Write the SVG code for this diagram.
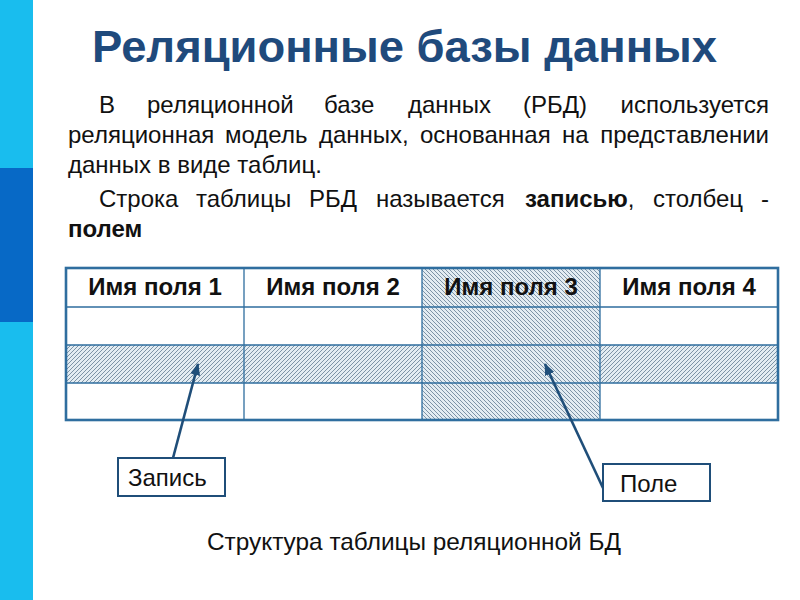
<svg xmlns="http://www.w3.org/2000/svg" width="800" height="600" viewBox="0 0 800 600">
<style>
.body{font-family:"Liberation Sans",Arial,sans-serif;font-size:24px;fill:#111}
.b{font-weight:bold}
.hdr{font-family:"Liberation Sans",Arial,sans-serif;font-size:24px;font-weight:bold;fill:#111;text-anchor:middle}
.title{font-family:"Liberation Sans",Arial,sans-serif;font-size:44px;font-weight:bold;fill:#1F4A7C}
.grid{stroke:#2F6E9F;stroke-width:1.3;fill:none}
.outer{stroke:#2F6E9F;stroke-width:2.6;fill:none}
.conn{stroke:#1F4E79;stroke-width:2.6;fill:none}
.lbl{fill:#fff;stroke:#1F4E79;stroke-width:2}
</style>
<defs>
<pattern id="hRow" width="4" height="4" patternUnits="userSpaceOnUse">
<rect width="4" height="4" fill="#E3ECF2"/>
<path d="M-1,1 L1,-1 M0,4 L4,0 M3,5 L5,3" stroke="#7D93A6" stroke-width="1"/>
</pattern>
<pattern id="hCol" width="4" height="4" patternUnits="userSpaceOnUse">
<rect width="4" height="4" fill="#E3ECF2"/>
<path d="M-1,3 L1,5 M0,0 L4,4 M3,-1 L5,1" stroke="#7D93A6" stroke-width="1"/>
</pattern>
<marker id="arr" markerWidth="12" markerHeight="10" refX="11" refY="5" orient="auto" markerUnits="userSpaceOnUse">
<path d="M0,0 L12,5 L0,10 Z" fill="#1F4E79"/>
</marker>
</defs>
<rect width="800" height="600" fill="#fff"/>
<g id="sidebar">
<rect x="0" y="0" width="33" height="600" fill="#19BDEE"/>
<rect x="0" y="168" width="33" height="154" fill="#0769C6"/>
</g>
<g id="title">
<text class="title" x="92" y="62" textLength="625" lengthAdjust="spacingAndGlyphs">Реляционные базы данных</text>
</g>
<g id="paragraph">
<text class="body" y="113"><tspan x="99">В</tspan><tspan x="147">реляционной</tspan><tspan x="324">базе</tspan><tspan x="408">данных</tspan><tspan x="523">(РБД)</tspan><tspan x="769" text-anchor="end">используется</tspan></text>
<text class="body" y="143"><tspan x="68">реляционная</tspan><tspan x="225">модель</tspan><tspan x="319">данных,</tspan><tspan x="420">основанная</tspan><tspan x="562">на</tspan><tspan x="769" text-anchor="end">представлении</tspan></text>
<text class="body" x="68" y="173">данных в виде таблиц.</text>
<text class="body" y="207"><tspan x="99">Строка</tspan><tspan x="196">таблицы</tspan><tspan x="309">РБД</tspan><tspan x="376">называется</tspan><tspan x="525" class="b">записью</tspan><tspan>,</tspan><tspan x="653">столбец</tspan><tspan x="769" text-anchor="end">-</tspan></text>
<text class="body b" x="68" y="237">полем</text>
</g>
<g id="table">
<rect x="66" y="268" width="712" height="152" fill="#fff"/>
<rect x="66" y="345" width="712" height="38" fill="url(#hRow)"/>
<rect x="422" y="268" width="178" height="152" fill="url(#hCol)"/>
<path class="grid" d="M66,307H778M66,345H778M66,383H778M244,268V420M422,268V420M600,268V420"/>
<rect class="outer" x="66" y="268" width="712" height="152"/>
<text class="hdr" x="155" y="295">Имя поля 1</text>
<text class="hdr" x="333" y="295">Имя поля 2</text>
<text class="hdr" x="511" y="295">Имя поля 3</text>
<text class="hdr" x="689" y="295">Имя поля 4</text>
</g>
<g id="connectors">
<line class="conn" x1="173" y1="458" x2="198" y2="364" marker-end="url(#arr)"/>
<line class="conn" x1="603" y1="488" x2="545" y2="364" marker-end="url(#arr)"/>
</g>
<g id="node-zapis">
<rect class="lbl" x="118" y="458" width="107" height="38"/>
<text class="body" x="128" y="486">Запись</text>
</g>
<g id="node-pole">
<rect class="lbl" x="603" y="464" width="107" height="37"/>
<text class="body" x="620" y="492">Поле</text>
</g>
<g id="caption">
<text class="body" x="207" y="550" textLength="414" lengthAdjust="spacingAndGlyphs">Структура таблицы реляционной БД</text>
</g>
</svg>
